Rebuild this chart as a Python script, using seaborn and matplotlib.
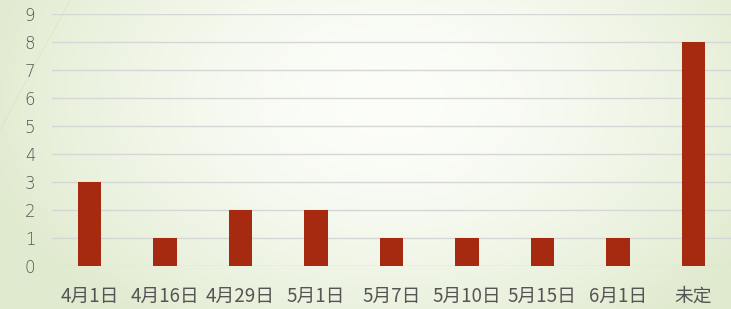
import numpy as np
import pandas as pd
import matplotlib
matplotlib.use("Agg")
import matplotlib.pyplot as plt
import seaborn as sns

categories = ["4月1日", "4月16日", "4月29日", "5月1日", "5月7日", "5月10日", "5月15日", "6月1日", "未定"]
values = [3, 1, 2, 2, 1, 1, 1, 1, 8]
yticks = list(range(0, 10))

sns.set_theme(style="white")
plt.rcParams['font.family'] = ['Noto Sans CJK SC', 'DejaVu Sans']

fig = plt.figure(figsize=(7.31, 3.09), dpi=100)

# radial gradient background
bg = fig.add_axes([0, 0, 1, 1], zorder=0)
yy, xx = np.mgrid[0:309, 0:731]
cx, cy = 390, 100
r = np.sqrt(((xx - cx) / 420.0) ** 2 + ((yy - cy) / 280.0) ** 2)
r = np.clip(r, 0, 1)
c0 = np.array([0.99, 0.995, 0.98])
c1 = np.array([0.88, 0.92, 0.81])
w = r[..., None] ** 1.6
img = c0[None, None, :] * (1 - w) + c1[None, None, :] * w
bg.imshow(img, extent=[0, 731, 309, 0], aspect='auto')
bg.plot([0, 70], [130, 0], color='#cfd9c0', lw=0.8, alpha=0.35)
bg.set_xlim(0, 731); bg.set_ylim(309, 0)
bg.axis('off')

ax = fig.add_axes([52 / 731, 43 / 309, 679 / 731, 252 / 309], zorder=1)
ax.patch.set_alpha(0)
df = pd.DataFrame({"cat": categories, "val": values})
sns.barplot(data=df, x="cat", y="val", ax=ax, color="#a52a0f", width=0.31,
            saturation=1, zorder=3, edgecolor='none')
ax.set_ylim(0, 9)
ax.set_yticks(yticks)
ax.set_xlim(-0.5, len(categories) - 0.5)
ax.grid(axis='y', color='#d6d6d6', lw=1.0, zorder=0)
ax.set_axisbelow(True)
for s in ax.spines.values():
    s.set_visible(False)
ax.set_xlabel("")
ax.set_ylabel("")
ax.tick_params(axis='y', length=0, pad=12, labelsize=12, labelcolor='#555555')
ax.tick_params(axis='x', length=0, pad=14, labelsize=13.5, labelcolor='#555555')
for lbl in ax.get_yticklabels():
    lbl.set_fontfamily(['DejaVu Sans'])
    lbl.set_fontweight('light')

fig.savefig("out.png", dpi=100)
